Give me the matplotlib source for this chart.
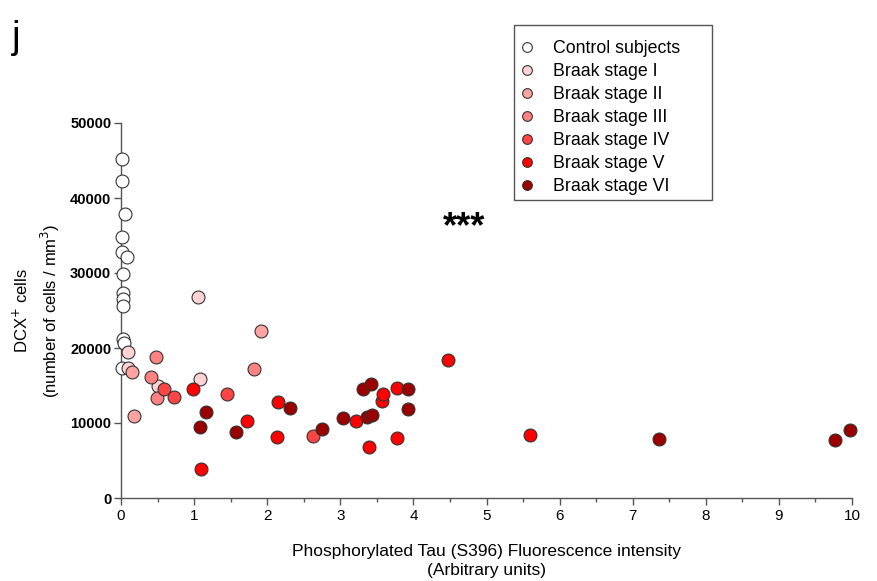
import matplotlib
matplotlib.use("Agg")
import matplotlib.pyplot as plt
from matplotlib.ticker import MultipleLocator
from matplotlib.lines import Line2D
from matplotlib.patches import Rectangle

plt.rcParams['font.family'] = ['Liberation Sans', 'DejaVu Sans']

groups = ["Control subjects", "Braak stage I", "Braak stage II", "Braak stage III",
          "Braak stage IV", "Braak stage V", "Braak stage VI"]
colors = ["#FFFFFF", "#FFD3D3", "#FFA3A3", "#FF8282", "#FF4545", "#FF0000", "#9A0000"]

ctrl_x = [0.02, 0.02, 0.05, 0.02, 0.02, 0.08, 0.03, 0.03, 0.03, 0.03, 0.03, 0.04, 0.02]
ctrl_y = [45200, 42300, 37900, 34800, 32800, 32100, 29900, 27300, 26500, 25600, 21200, 20700, 17300]

s1_x = [0.09, 0.09, 0.50, 1.08, 1.05]
s1_y = [19500, 17400, 14930, 15830, 26750]

s2_x = [0.15, 0.18, 1.92]
s2_y = [16850, 10930, 22300]

s3_x = [0.48, 0.41, 0.49, 1.82]
s3_y = [18750, 16180, 13290, 17150]

s4_x = [0.59, 0.725, 1.45, 2.62]
s4_y = [14500, 13420, 13830, 8310]

s5_x = [0.99, 1.09, 1.72, 2.15, 2.13, 3.21, 3.39, 3.57, 3.59, 3.78, 3.78, 4.48, 5.59]
s5_y = [14580, 3830, 10310, 12840, 8180, 10310, 6760, 12930, 13820, 14710, 8040, 18400, 8360]

s6_x = [1.16, 1.08, 1.57, 2.31, 2.75, 3.04, 3.31, 3.42, 3.37, 3.43, 3.92, 3.92, 7.36, 9.77, 9.97]
s6_y = [11510, 9510, 8760, 12040, 9150, 10710, 14530, 15200, 10760, 11070, 14530, 11910, 7870, 7730, 9070]

series = [(ctrl_x, ctrl_y), (s1_x, s1_y), (s2_x, s2_y), (s3_x, s3_y),
          (s4_x, s4_y), (s5_x, s5_y), (s6_x, s6_y)]

W, H = 878, 581
fig = plt.figure(figsize=(W/100, H/100), dpi=100)
ax = fig.add_axes([121/W, 1-498/H, (852-121)/W, (498-123)/H])

for (xs, ys), c in zip(series, colors):
    ax.plot(xs, ys, linestyle='none', marker='o', markersize=9.3,
            markerfacecolor=c, markeredgecolor='#333333', markeredgewidth=0.8,
            clip_on=False, zorder=3)

ax.set_xlim(0, 10)
ax.set_ylim(0, 50000)
ax.xaxis.set_major_locator(MultipleLocator(1))
ax.xaxis.set_minor_locator(MultipleLocator(0.5))
ax.yaxis.set_major_locator(MultipleLocator(10000))

for s in ['top', 'right']:
    ax.spines[s].set_visible(False)
for s in ['left', 'bottom']:
    ax.spines[s].set_color('#555555')
    ax.spines[s].set_linewidth(1.0)

ax.tick_params(axis='both', which='major', direction='out', length=5, width=1, color='#555555')
ax.tick_params(axis='x', which='minor', direction='out', length=3, width=1, color='#555555')
ax.tick_params(axis='x', labelsize=11, pad=3)
ax.tick_params(axis='y', labelsize=10.5, pad=2)
for lab in ax.get_yticklabels():
    lab.set_fontweight('bold')

ax.set_xlabel("Phosphorylated Tau (S396) Fluorescence intensity\n(Arbitrary units)",
              fontsize=12.5, labelpad=15, linespacing=1.32)
ax.set_ylabel("DCX$^{+}$ cells\n(number of cells / mm$^{3}$)", fontsize=12,
              labelpad=6, linespacing=1.45)

ax.text(4.69, 36000, "***", fontsize=26, fontweight='bold', ha='center', va='center')
fig.text(12/W, 1-38/H, "j", fontsize=28, ha='left', va='center')

# legend frame
fig.patches.append(Rectangle((514/W, 1-200/H), (712-514)/W, (200-25)/H,
                             transform=fig.transFigure, facecolor='white',
                             edgecolor='#555555', linewidth=1.0, zorder=1))

handles = [Line2D([0], [0], linestyle='none', marker='o', markersize=7,
                  markerfacecolor=c, markeredgecolor='#333333', markeredgewidth=0.8)
           for c in colors]
leg = fig.legend(handles, groups, loc='upper left',
                 bbox_to_anchor=(518/W, 1-40/H), fontsize=12.8,
                 frameon=False, handlelength=1.0, handletextpad=0.97,
                 labelspacing=0.34, borderpad=0, borderaxespad=0)
leg.set_zorder(2)

fig.savefig("out.png", dpi=100)
